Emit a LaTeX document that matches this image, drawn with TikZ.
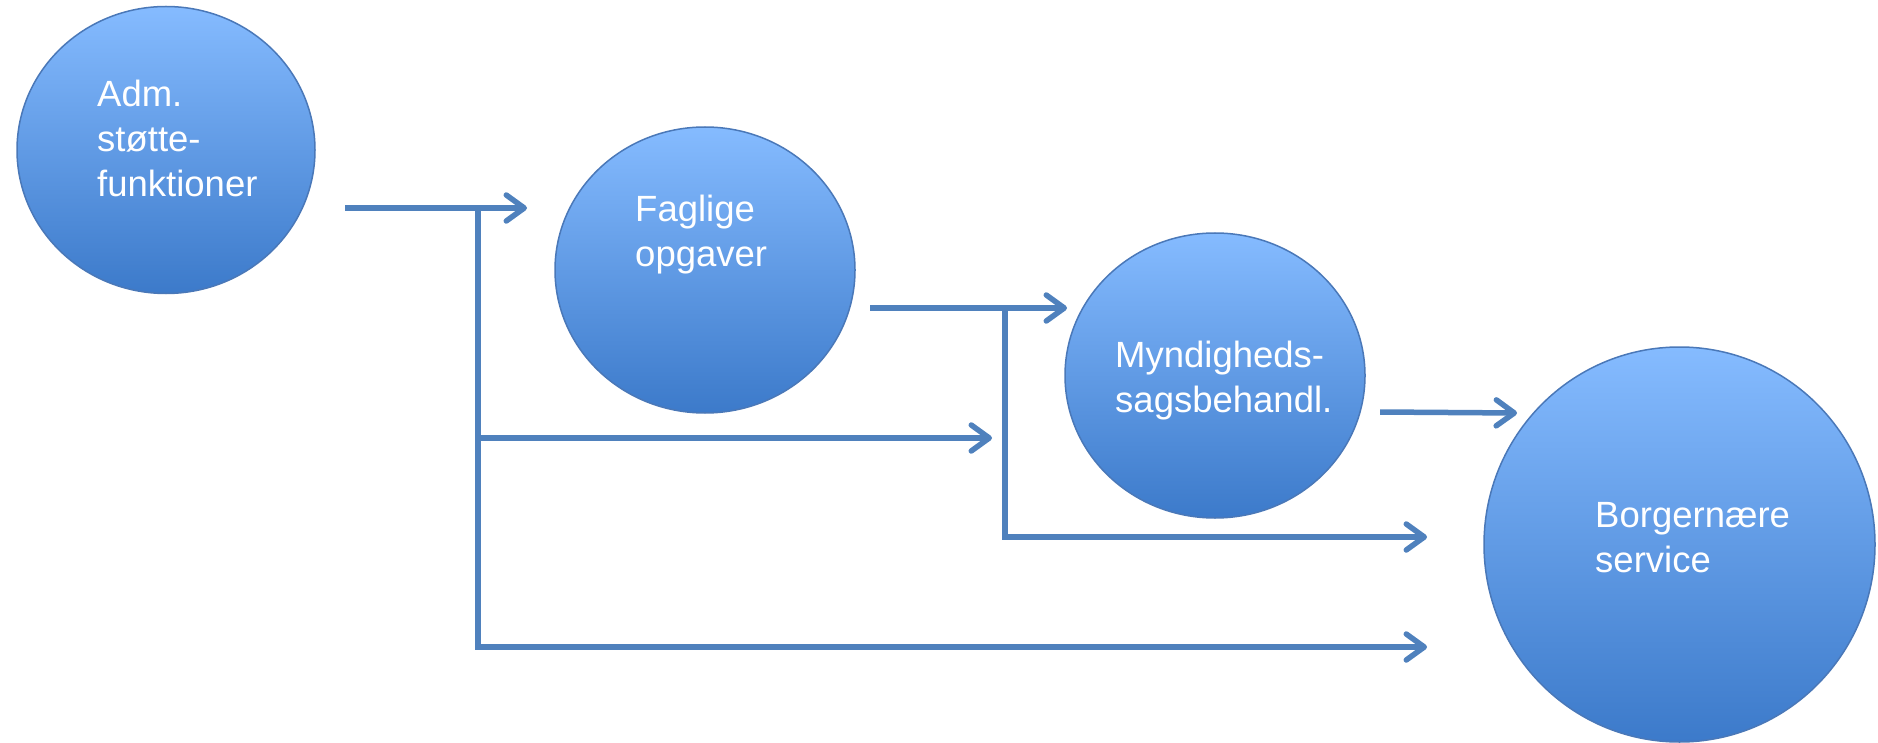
\documentclass[tikz,border=0pt]{standalone}
\usepackage{fontspec}
\setmainfont{Liberation Sans}
\usetikzlibrary{shapes.geometric,arrows.meta}
\definecolor{linkblue}{RGB}{79,129,189}
\definecolor{balltop}{RGB}{133,187,255}
\definecolor{ballbot}{RGB}{60,122,202}
\definecolor{ballrim}{RGB}{74,120,184}
\tikzset{
  ball/.style={ellipse, inner sep=0pt, draw=ballrim, line width=1.5pt,
    top color=balltop, bottom color=ballbot},
  balltext/.style={anchor=base west, inner sep=0pt, text=white,
    font=\fontsize{36.5}{45}\selectfont},
  link/.style={draw=linkblue, line width=5.5pt},
  linkarrow/.style={link, -{Straight Barb[length=18pt,width=26pt,round]}}
}
\newcommand{\lines}[1]{\begin{tabular}[t]{@{}l@{}}#1\end{tabular}}
\begin{document}
\begin{tikzpicture}[x=1pt,y=-1pt]
\useasboundingbox (0,0) rectangle (1878,743);
% balls
\node[ball, minimum width=298pt, minimum height=287pt] (e1) at (166,150) {};
\node[ball, minimum width=300pt, minimum height=286pt] (e2) at (705,270) {};
\node[ball, minimum width=300pt, minimum height=285pt] (e3) at (1215,375.5) {};
\node[ball, minimum width=391pt, minimum height=395pt] (e4) at (1679.5,544.5) {};
% texts
\node[balltext] (t1) at (97,107) {\lines{Adm.\\støtte-\\funktioner}};
\node[balltext] (t2) at (635,222) {\lines{Faglige\\opgaver}};
\node[balltext] (t3) at (1115,367) {\lines{Myndigheds-\\sagsbehandl.}};
\node[balltext] (t4) at (1595,527) {\lines{Borgernære\\service}};
% connector points
\coordinate (a1s) at (345,208);
\coordinate (a1e) at (527,208);
\coordinate (v1t) at (478,208);
\coordinate (v1m) at (478,438);
\coordinate (b1e) at (992,438);
\coordinate (b2e) at (1427,647);
\coordinate (a2s) at (870,308);
\coordinate (a2e) at (1067,308);
\coordinate (v2t) at (1005,308);
\coordinate (b3e) at (1427,537);
\coordinate (a3s) at (1380,412);
\coordinate (a3e) at (1517,413);
% connectors
\draw[linkarrow] (a1s) -- (a1e);
\draw[linkarrow] (v1t) |- (b2e);
\draw[linkarrow] (v1m) -- (b1e);
\draw[linkarrow] (a2s) -- (a2e);
\draw[linkarrow] (v2t) |- (b3e);
\draw[linkarrow] (a3s) -- (a3e);
\end{tikzpicture}
\end{document}
